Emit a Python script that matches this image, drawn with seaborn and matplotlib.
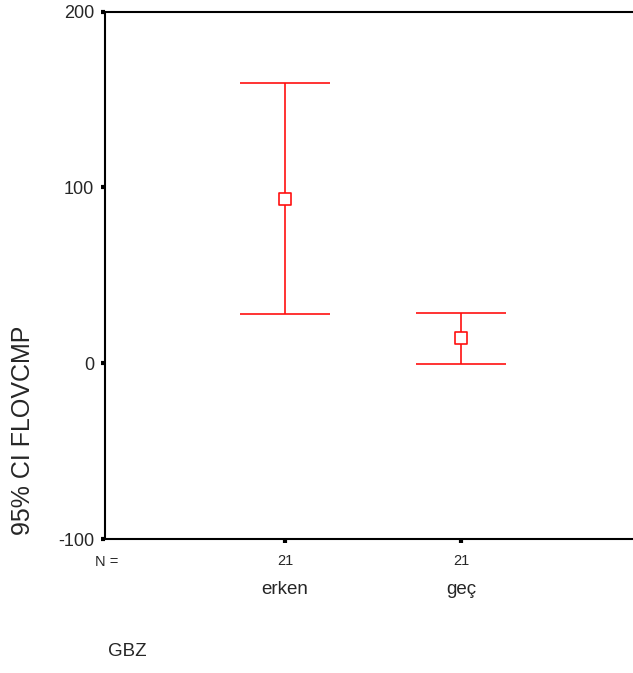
import matplotlib
matplotlib.use("Agg")
import matplotlib.pyplot as plt
import matplotlib.transforms as mtransforms
import numpy as np
import pandas as pd
import seaborn as sns

# Group means and 95% confidence limits of FLOVCMP by GBZ
groups = ["erken", "geç"]
n_counts = [21, 21]
means = [93.6, 14.4]
ci_low = [27.8, -0.2]
ci_high = [159.2, 28.8]
y_ticks = [-100, 0, 100, 200]

df = pd.DataFrame({"GBZ": groups, "N": n_counts, "mean": means,
                   "lo": ci_low, "hi": ci_high})
df["pos"] = np.arange(1, len(df) + 1)

sns.set_style("ticks")
plt.rcParams["font.family"] = ["Liberation Sans", "DejaVu Sans"]

W, H = 633, 673
fig = plt.figure(figsize=(W / 100, H / 100), dpi=100)
ax = fig.add_axes([105 / W, 1 - 539 / H, 1 - 105 / W, (539 - 11.5) / H])

red = "#ff1010"
ax.errorbar(df["pos"], df["mean"],
            yerr=[df["mean"] - df["lo"], df["hi"] - df["mean"]],
            fmt="none", ecolor=red, elinewidth=1.2, capsize=32.4,
            capthick=1.2, zorder=2)
sns.scatterplot(data=df, x="pos", y="mean", ax=ax, marker="s", s=70,
                facecolor="white", edgecolor=red, linewidth=1.2, zorder=3,
                legend=False)

ax.set_xlim(-0.023, 2.977)
ax.set_ylim(-100, 200)
ax.set_yticks(y_ticks)
ax.set_yticklabels([str(v) for v in y_ticks], fontsize=13)
ax.set_xticks(df["pos"])
ax.set_xticklabels([str(n) for n in df["N"]], fontsize=10.5)
ax.set_xlabel("")
ax.set_ylabel("")

for side in ["left", "top", "bottom"]:
    ax.spines[side].set_visible(True)
    ax.spines[side].set_linewidth(1.5)
    ax.spines[side].set_color("black")
ax.spines["right"].set_visible(False)
ax.tick_params(axis="both", direction="out", length=3, width=3,
               color="black", pad=5)
ax.tick_params(axis="x", pad=8)

# category names beneath the counts
trans = mtransforms.blended_transform_factory(ax.transData, fig.transFigure)
for p, g in zip(df["pos"], df["GBZ"]):
    ax.text(p, 1 - 590 / H, g, transform=trans, ha="center", va="center",
            fontsize=13.5)

fig.text(107 / W, 1 - 562 / H, "N =", ha="center", va="center", fontsize=10.5)
fig.text(23 / W, 1 - 430 / H, "95% CI FLOVCMP", rotation=90,
         ha="center", va="center", fontsize=18)
fig.text(108 / W, 1 - 652 / H, "GBZ", ha="left", va="center", fontsize=13.5)

fig.savefig("out.png", dpi=100)
